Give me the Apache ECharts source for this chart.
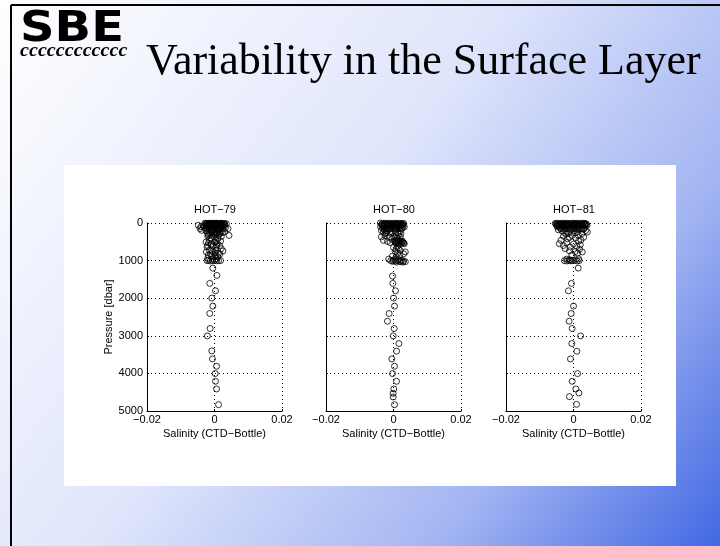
<!DOCTYPE html>
<html>
<head>
<meta charset="utf-8">
<title>Variability in the Surface Layer</title>
<script src="https://cdn.jsdelivr.net/npm/echarts@6/dist/echarts.min.js"></script>
<style>
html, body { margin: 0; padding: 0; }
#main { width: 720px; height: 546px; }
</style>
</head>
<body>
<div id="main"></div>
<script>
// titles of the three cruises
var panelNames = ['HOT\u221279', 'HOT\u221280', 'HOT\u221281'];

// [salinity difference (CTD - bottle), pressure dbar]
var hot79 = [
  [-0.0028,5],[-0.0022,10],[-0.0016,5],[-0.0012,15],[-0.0008,5],[-0.0004,20],[0,5],[0.0004,10],[0.0008,5],[0.0012,20],[0.0016,10],[0.002,5],[0.0025,15],[0.003,10],[0.0035,20],
  [-0.0026,25],[-0.002,30],[-0.0014,25],[-0.0008,30],[-0.0002,25],[0.0004,30],[0.001,25],[0.0016,30],[0.0022,25],[0.0028,30],
  [-0.0025,40],[-0.0018,45],[-0.001,35],[-0.0005,50],[0.0002,40],[0.0007,45],[0.0012,50],[0.002,40],[0.0028,50],
  [-0.0048,60],[-0.0043,150],[-0.0038,195],[-0.004,100],[-0.0033,80],
  [-0.0024,65],[-0.0017,70],[-0.001,60],[-0.0003,65],[0.0004,70],[0.0011,60],[0.0018,65],[0.0025,70],[0.0031,65],
  [-0.003,120],[-0.0022,90],[-0.0015,75],[-0.0008,110],[-0.0002,100],[0.0005,80],[0.001,125],[0.0017,100],[0.0024,90],[0.004,150],[0.0032,130],
  [-0.0024,140],[-0.0017,150],[-0.001,140],[-0.0003,150],[0.0004,140],[0.0011,150],[0.0018,140],[0.0025,150],
  [-0.0025,200],[-0.0015,180],[-0.0008,220],[0,175],[0.0006,250],[0.0012,200],[0.002,230],[0.003,240],[0.0043,330],[-0.002,280],[0,300],[0.0015,290],
  [-0.0021,250],[-0.0014,260],[-0.0007,240],[0.0001,260],[0.0009,240],[0.0016,260],[0.0024,250],
  [-0.0018,320],[-0.0008,330],[0.0002,320],[0.0012,330],
  [-0.002,350],[-0.001,400],[0,380],[0.001,420],[0.002,360],[-0.0015,450],[0.0005,470],[0.0018,480],
  [-0.0025,505],[-0.0018,530],[-0.001,560],[0,510],[0.0008,540],[0.0015,600],[-0.0022,637],[-0.0005,620],[0.0005,650],[0.002,680],
  [-0.002,600],[-0.001,580],[0.0006,590],
  [-0.0024,770],[-0.0015,720],[-0.0005,760],[0.0005,730],[0.0012,800],[0.0025,745],[-0.0018,850],[-0.0008,880],[0.0003,860],[0.001,900],
  [-0.0012,820],[0.0002,800],[0.0016,830],[-0.002,940],[0.0005,950],[-0.0005,960],
  [-0.0022,1000],[-0.0017,990],[-0.0012,1010],[-0.0006,1000],[0,995],[0.0006,1005],[0.0012,1000],[0.0018,1000],
  [-0.0005,1200],[0.0007,1394],[-0.0014,1607],[0.0003,1803],[-0.0008,1998],[-0.0005,2211],[-0.0014,2407],[-0.0013,2806],
  [-0.0021,3002],[-0.0008,3401],[-0.0006,3615],[0.0006,3810],[0.0002,4005],[0.0003,4210],[0.0006,4414],[0.0012,4832]
];

var hot80 = [
  [-0.0039,0],[-0.0032,10],[-0.0025,5],[-0.0018,15],[-0.0012,5],[-0.0006,20],[0,10],[0.0006,5],[0.0012,15],[0.0018,5],[0.0024,20],[0.003,10],
  [-0.0034,25],[-0.0027,30],[-0.002,25],[-0.0013,30],[-0.0006,25],[0.0001,30],[0.0008,25],[0.0015,30],[0.0022,25],[0.0028,30],
  [-0.0035,45],[-0.0028,40],[-0.002,50],[-0.0012,45],[-0.0004,40],[0.0004,50],[0.001,45],[0.0018,40],[0.0025,50],
  [-0.0033,65],[-0.0026,70],[-0.0019,65],[-0.0012,70],[-0.0005,65],[0.0002,70],[0.0009,65],[0.0016,70],[0.0023,65],[0.0029,70],
  [-0.0038,100],[-0.003,90],[-0.0022,120],[-0.0014,80],[-0.0006,110],[0.0002,95],[0.001,125],[0.0018,100],[0.0032,105],[0.0026,140],
  [-0.0032,140],[-0.0025,150],[-0.0018,145],[-0.0011,150],[-0.0004,140],[0.0003,150],[0.001,145],[0.0017,150],[0.0024,140],
  [-0.0036,200],[-0.0028,180],[-0.002,220],[-0.0012,170],[-0.0004,240],[0.0005,200],[0.0013,260],[0.002,210],[0.0015,300],[-0.0025,280],
  [-0.003,250],[-0.0022,260],[-0.0008,270],[0.0006,250],[0.0022,280],
  [-0.0036,370],[-0.0025,340],[-0.0012,380],[0,350],[0.001,400],[0.002,370],[-0.0005,430],[0.0012,440],
  [-0.003,460],[-0.0018,490],[0.0003,480],[0.001,500],[0.0015,520],[0.002,490],[0.0025,510],[0.003,530],[0.0032,550],[0.0008,540],[0.0018,555],[-0.001,520],
  [0.0005,470],[0.0012,480],[0.0019,470],[0.0026,480],[0.0006,525],[0.0013,530],[0.0022,540],[0.0028,520],
  [0,650],[0.0008,700],[0.0015,680],[0.0035,770],[0.003,820],[0.0005,760],[0.0012,800],[0.0018,860],[-0.0003,880],[0.0008,900],[0.0012,620],[0.002,730],
  [-0.0014,960],[-0.0008,1000],[0,990],[0.0006,1010],[0.0012,1000],[0.0018,1020],[0.0024,990],[0.003,1010],[0.0035,1030],[0.0028,1040],
  [0.0005,960],[0.0015,970],[0.0022,1030],[0.0009,1040],[-0.0003,1020],
  [-0.0003,1412],[-0.0002,1607],[0.0006,1803],[0,1998],[0.0003,2211],[-0.0013,2407],[-0.0018,2611],[0.0002,2806],[-0.0001,3002],
  [0.0016,3206],[0.0009,3410],[-0.0005,3615],[0.0003,3810],[-0.0003,4005],[0.0009,4210],[0.0001,4414],[-0.0001,4530],[-0.0001,4627],[0.0003,4832]
];

var hot81 = [
  [-0.0054,10],[-0.0048,5],[-0.0042,20],[-0.0036,10],[-0.003,5],[-0.0024,15],[-0.0018,5],[-0.0012,20],[-0.0006,10],[0,5],[0.0006,15],[0.0012,5],[0.0018,20],[0.0024,10],[0.003,5],[0.0036,15],
  [-0.0052,25],[-0.0045,30],[-0.0038,25],[-0.0031,30],[-0.0024,25],[-0.0017,30],[-0.001,25],[-0.0003,30],[0.0004,25],[0.0011,30],[0.0018,25],[0.0025,30],[0.0032,25],[0.0038,30],
  [-0.005,45],[-0.0044,55],[-0.0038,40],[-0.003,50],[-0.0022,45],[-0.0014,55],[-0.0006,40],[0.0002,50],[0.001,45],[0.0018,55],[0.0026,40],[0.0034,50],[0.004,60],
  [-0.0049,70],[-0.0042,75],[-0.0035,70],[-0.0028,75],[-0.0021,70],[-0.0014,75],[-0.0007,70],[0,75],[0.0007,70],[0.0014,75],[0.0021,70],[0.0028,75],[0.0035,70],
  [-0.0048,100],[-0.004,120],[-0.0032,90],[-0.0025,150],[-0.0017,110],[-0.0009,130],[0,100],[0.0008,140],[0.0016,115],[0.0024,160],[0.0032,130],[0.0041,240],[0.0036,200],[-0.0035,200],[-0.002,220],[0,210],[0.0012,230],[-0.0045,180],
  [-0.0038,150],[-0.003,160],[-0.0018,150],[-0.001,160],[0.0002,150],[0.0012,160],[0.002,150],[0.003,165],
  [-0.0028,250],[-0.0015,270],[0.0005,260],[0.0025,280],
  [-0.0037,460],[-0.003,350],[-0.0022,300],[-0.0012,380],[-0.0004,330],[0.0006,400],[0.0014,320],[0.0022,450],[0.003,380],[-0.0018,420],[0.0015,480],
  [-0.0042,550],[-0.003,600],[-0.002,520],[-0.001,640],[0,560],[0.001,620],[0.002,580],[0.0026,770],[0.0018,700],[-0.0025,680],[-0.0012,740],[0.0005,760],[0.0012,800],[-0.0005,850],
  [-0.0027,1000],[-0.002,1010],[-0.0014,995],[-0.0008,1005],[-0.0002,1000],[0.0005,990],[0.0011,1010],[0.0017,1000],[0.0015,950],[-0.002,960],[-0.001,980],
  [0.0014,1200],[-0.0006,1607],[-0.0015,1803],[0,2211],[-0.0007,2407],[-0.0013,2611],[-0.0004,2806],[0.0021,3002],
  [-0.0005,3206],[0.001,3410],[-0.0009,3615],[0.0012,4005],[-0.0004,4210],[0.0007,4414],[0.0016,4520],[-0.0012,4618],[0.0009,4823]
];

var casts = [hot79, hot80, hot81];
var gridLeft = [147, 326, 506];
var plotFont = 'Liberation Sans';

var myChart = echarts.init(document.getElementById('main'));

function fmtTick(v) {
  if (Math.abs(v) < 1e-9) return '0';
  return (v < 0 ? '\u2212' : '') + Math.abs(v).toFixed(2);
}

var grids = [], xAxes = [], yAxes = [], series = [];
var graphics = [
  // slide background
  {
    type: 'rect', z: -100, silent: true,
    shape: { x: 0, y: 0, width: 720, height: 546 },
    style: {
      fill: new echarts.graphic.LinearGradient(0, 0, 1, 1, [
        { offset: 0, color: '#ffffff' },
        { offset: 0.45, color: '#dfe5fb' },
        { offset: 0.75, color: '#a3b5f2' },
        { offset: 1, color: '#4268e3' }
      ])
    }
  },
  { type: 'line', z: -90, silent: true, shape: { x1: 11, y1: 5, x2: 11, y2: 546 }, style: { stroke: '#000', lineWidth: 2 } },
  { type: 'line', z: -90, silent: true, shape: { x1: 11, y1: 5, x2: 720, y2: 5 }, style: { stroke: '#000', lineWidth: 2 } },
  // white figure box
  { type: 'rect', z: -80, silent: true, shape: { x: 64, y: 165, width: 612, height: 321 }, style: { fill: '#ffffff' } },
  // logo
  {
    type: 'text', z: -70, silent: true, x: 20, y: 9, scaleX: 1.2, scaleY: 1.05,
    style: { text: 'SBE', fill: '#000', font: '900 40px "DejaVu Sans"', textVerticalAlign: 'top' }
  },
  {
    type: 'text', z: -70, silent: true, x: 20, y: 42, scaleX: 1.12,
    style: { text: 'cccccccccccc', fill: '#000', font: 'italic bold 18px "Liberation Serif"', textVerticalAlign: 'top' }
  },
  // slide title
  {
    type: 'text', z: -70, silent: true, x: 146, y: 62,
    style: { text: 'Variability in the Surface Layer', fill: '#000', font: '44px "Liberation Serif"', textVerticalAlign: 'middle' }
  }
];

for (var i = 0; i < 3; i++) {
  grids.push({ left: gridLeft[i], top: 223, width: 135, height: 188 });
  xAxes.push({
    gridIndex: i, type: 'value', min: -0.02, max: 0.02, interval: 0.02,
    name: 'Salinity (CTD\u2212Bottle)', nameLocation: 'middle', nameGap: 17,
    nameTextStyle: { color: '#000', fontSize: 11, fontFamily: plotFont },
    axisLine: { show: true, onZero: false, lineStyle: { color: '#000', width: 1 } },
    axisTick: { show: true, inside: true, length: 2, lineStyle: { color: '#000' } },
    axisLabel: { color: '#000', fontSize: 11, fontFamily: plotFont, margin: 3, formatter: fmtTick },
    splitLine: { show: true, lineStyle: { color: '#000', width: 1, type: [1, 3] } }
  });
  yAxes.push({
    gridIndex: i, type: 'value', inverse: true, min: 0, max: 5000, interval: 1000,
    name: i === 0 ? 'Pressure [dbar]' : '', nameLocation: 'middle', nameGap: 25,
    nameTextStyle: { color: '#000', fontSize: 11, fontFamily: plotFont },
    axisLine: { show: true, onZero: false, lineStyle: { color: '#000', width: 1 } },
    axisTick: { show: true, inside: true, length: 2, lineStyle: { color: '#000' } },
    axisLabel: { show: i === 0, color: '#000', fontSize: 11, fontFamily: plotFont, margin: 4,
      formatter: function (v) { return String(v); } },
    splitLine: { show: true, lineStyle: { color: '#000', width: 1, type: [1, 3] } }
  });
  series.push({
    type: 'scatter', xAxisIndex: i, yAxisIndex: i, data: casts[i],
    symbol: 'circle', symbolSize: 6, clip: false, silent: true,
    itemStyle: { color: 'rgba(0,0,0,0)', borderColor: '#000', borderWidth: 1 }
  });
  graphics.push({
    type: 'text', silent: true, x: gridLeft[i] + 68, y: 210,
    style: { text: panelNames[i], fill: '#000', font: '11px "Liberation Sans"', textAlign: 'center', textVerticalAlign: 'middle' }
  });
}

var option = {
  animation: false,
  grid: grids,
  xAxis: xAxes,
  yAxis: yAxes,
  series: series,
  graphic: { elements: graphics }
};
myChart.setOption(option);
</script>
</body>
</html>
